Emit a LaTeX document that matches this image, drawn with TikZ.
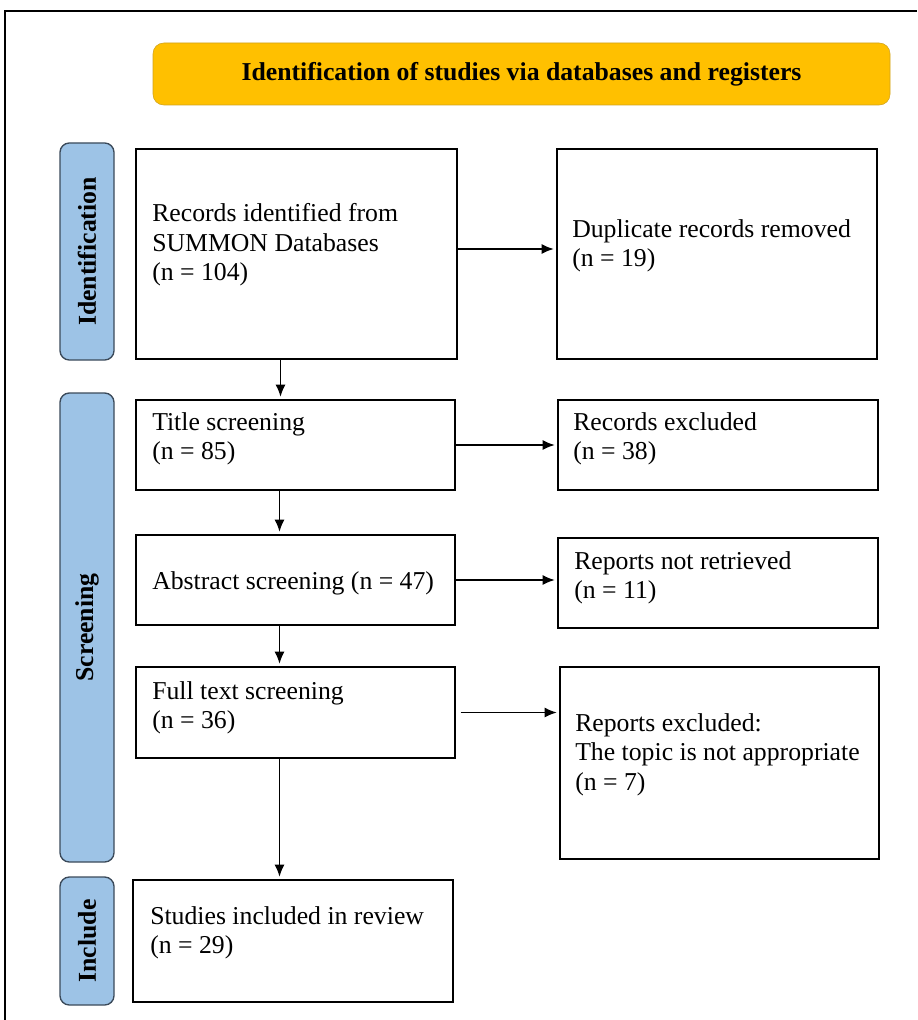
\documentclass[tikz,border=0pt]{standalone}
\usepackage{fontspec}
\setmainfont{Liberation Serif}
\usetikzlibrary{arrows.meta}
\definecolor{hdrgold}{HTML}{FFC000}
\definecolor{hdredge}{HTML}{CFA21F}
\definecolor{barblue}{HTML}{9DC3E6}
\definecolor{baredge}{HTML}{3B4A5A}

\begin{document}
\begin{tikzpicture}[x=0.75pt,y=-0.75pt,
    box/.style={draw, line width=1pt, inner sep=0pt},
    txt/.style={anchor=north west, inner sep=0pt, align=left, font=\fontsize{19.3}{22.3}\selectfont},
    bar/.style={draw=baredge, fill=barblue, line width=1pt, rounded corners=7pt, rotate=90,
      inner sep=0pt, minimum height=40.5pt, font=\fontsize{19.3}{22}\selectfont\bfseries},
    arr/.style={-{Latex[length=9pt,width=7.5pt]}, line width=1pt, shorten >=2pt}]

  \useasboundingbox (0,0) rectangle (917,1020);
  \draw[line width=1.5pt] (5,1020) -- (5,11) -- (917,11);

  % header
  \node[draw=hdredge, fill=hdrgold, rounded corners=8pt, minimum width=552.75pt, minimum height=46.5pt,
    font=\fontsize{19.3}{22}\selectfont\bfseries] (hdr) at (521.5,74)
    {Identification of studies via databases and registers};

  % phase bars
  \node[bar, minimum width=162.75pt] (idbar) at (87,251.5) {Identification};
  \node[bar, minimum width=351.75pt] (scrbar) at (87,627.5) {Screening};
  \node[bar, minimum width=96pt] (inclbar) at (87,941) {Include};

  % boxes
  \node[box, minimum width=240.75pt, minimum height=157.5pt] (rec) at (296.5,254) {};
  \node[box, minimum width=240pt, minimum height=157.5pt] (dup) at (717,254) {};
  \node[box, minimum width=239.25pt, minimum height=67.5pt] (title) at (295.5,445) {};
  \node[box, minimum width=240pt, minimum height=67.5pt] (recexc) at (718,445) {};
  \node[box, minimum width=239.25pt, minimum height=67.5pt] (abs) at (295.5,580) {};
  \node[box, minimum width=240pt, minimum height=67.5pt] (notret) at (718,583) {};
  \node[box, minimum width=239.25pt, minimum height=68.25pt] (full) at (295.5,712.5) {};
  \node[box, minimum width=239.25pt, minimum height=144pt] (repexc) at (719.5,763) {};
  \node[box, minimum width=240pt, minimum height=91.5pt] (incl) at (293,941) {};

  % texts
  \node[txt] (rec-t) at (152,203) {Records identified from\\SUMMON Databases\\(n = 104)};
  \node[txt] (dup-t) at (572,219) {Duplicate records removed\\(n = 19)};
  \node[txt] (title-t) at (152,412) {Title screening\\(n = 85)};
  \node[txt] (recexc-t) at (573,412) {Records excluded\\(n = 38)};
  \node[txt] (abs-t) at (152,571) {Abstract screening (n = 47)};
  \node[txt] (notret-t) at (574,551) {Reports not retrieved\\(n = 11)};
  \node[txt] (full-t) at (152,681) {Full text screening\\(n = 36)};
  \node[txt] (repexc-t) at (575,713) {Reports excluded:\\The topic is not appropriate\\(n = 7)};
  \node[txt] (incl-t) at (150,906) {Studies included in review\\(n = 29)};

  % arrows
  \draw[arr] ([yshift=3.75pt]rec.east) -- ([yshift=3.75pt]rec.east -| dup.west);
  \draw[arr] (title.east) -- (title.east -| recexc.west);
  \draw[arr] (abs.east) -- (abs.east -| notret.west);
  \draw[arr, shorten <=3.75pt] (full.east) -- (full.east -| repexc.west);
  \draw[arr] ([xshift=-12pt]rec.south) -- ([xshift=-12pt]rec.south |- title.north);
  \draw[arr] ([xshift=-12pt]title.south) -- ([xshift=-12pt]title.south |- abs.north);
  \draw[arr] ([xshift=-12pt]abs.south) -- ([xshift=-12pt]abs.south |- full.north);
  \draw[arr] ([xshift=-12pt]full.south) -- ([xshift=-12pt]full.south |- incl.north);
\end{tikzpicture}
\end{document}
